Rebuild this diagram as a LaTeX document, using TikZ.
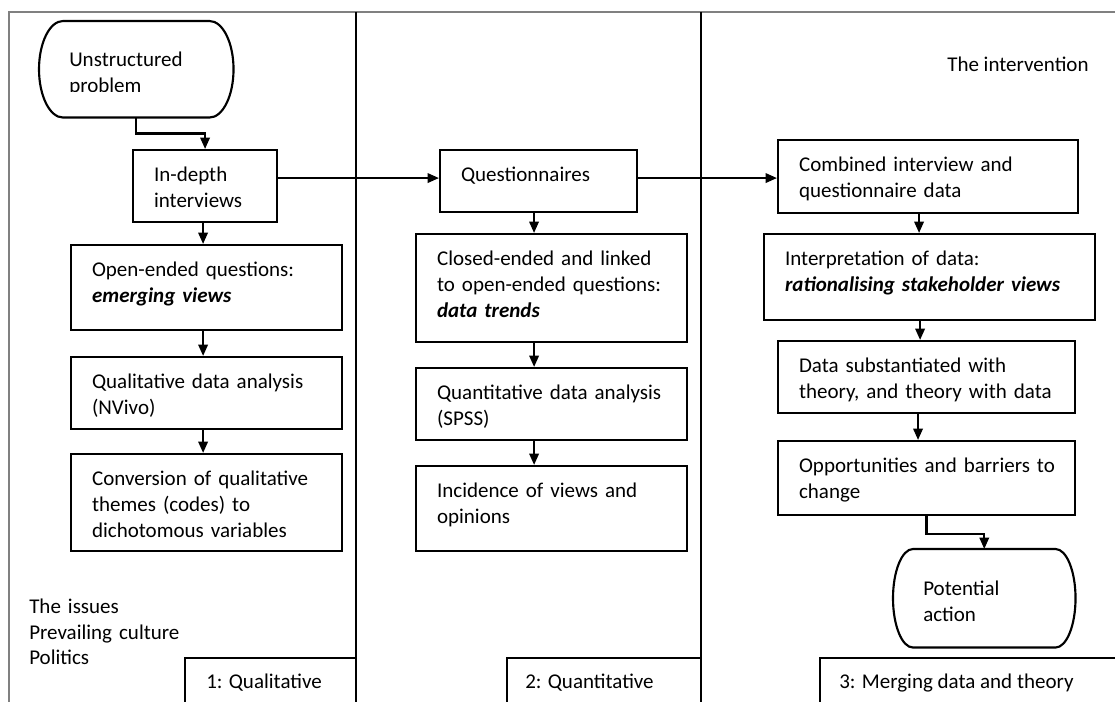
\documentclass[tikz,border=0pt]{standalone}
\usepackage{fontspec}
\setmainfont{Carlito}
\usetikzlibrary{arrows.meta}
\begin{document}
\begin{tikzpicture}[x=0.75pt,y=-0.75pt,
  every node/.style={font=\fontsize{15.75}{19.5}\selectfont},
  procbox/.style={draw, line width=1.6pt, anchor=north west, align=left, inner xsep=15.75pt, inner ysep=0pt, text height=23.25pt},
  termbox/.style={anchor=north west, align=left, inner xsep=22.5pt, inner ysep=0pt},
  termline/.style={line width=1.6pt},
  arr/.style={line width=1.7pt, -{Triangle[length=8.5pt,width=7pt]}},
  divider/.style={line width=1.6pt},
  outerframe/.style={line width=1.3pt, draw=black!50},
  freetext/.style={anchor=base west, inner sep=0pt, align=left}
]
\useasboundingbox (0,0) rectangle (1115,702);

% frame and lane dividers
\draw[outerframe] (9,702) -- (9,12) -- (1115,12);
\draw[divider] (356,12) -- (356,702);
\draw[divider] (701,12) -- (701,702);

% lane labels
\node[freetext] (lab1) at (206,688) {1: Qualitative};
\draw[divider] (185,702) |- (356,658);
\node[freetext] (lab2) at (525,688) {2: Quantitative};
\draw[divider] (507,702) |- (701,658);
\node[freetext] (lab3) at (839,688) {3: Merging data and theory};
\draw[divider] (820,702) |- (1115,658);

% free texts
\node[freetext, text width=150pt] (issues) at (29,613) {The issues\\Prevailing culture\\Politics};
\node[freetext] (interv) at (947,72) {The intervention};

% terminator: Unstructured problem
\begin{scope}
\clip (0,0) rectangle (1115,91.5);
\node[termbox, text width=100.5pt, text height=33.75pt, text depth=38.25pt] (unstr) at (39,21) {Unstructured\\problem};
\end{scope}
\draw[termline] ([xshift=18pt]unstr.north west) -- ([xshift=-18pt]unstr.north east)
  .. controls +(9.94pt,0pt) and +(0pt,19.9pt) .. (unstr.east)
  .. controls +(0pt,-19.9pt) and +(9.94pt,0pt) .. ([xshift=-18pt]unstr.south east)
  -- ([xshift=18pt]unstr.south west)
  .. controls +(-9.94pt,0pt) and +(0pt,-19.9pt) .. (unstr.west)
  .. controls +(0pt,19.9pt) and +(-9.94pt,0pt) .. cycle;

% terminator: Potential action
\node[termbox, text width=91.5pt, text height=34.5pt, text depth=39pt] (pot) at (893,549) {Potential\\action};
\draw[termline] ([xshift=15pt]pot.north west) -- ([xshift=-15pt]pot.north east)
  .. controls +(8.28pt,0pt) and +(0pt,20.3pt) .. (pot.east)
  .. controls +(0pt,-20.3pt) and +(8.28pt,0pt) .. ([xshift=-15pt]pot.south east)
  -- ([xshift=15pt]pot.south west)
  .. controls +(-8.28pt,0pt) and +(0pt,-20.3pt) .. (pot.west)
  .. controls +(0pt,20.3pt) and +(-8.28pt,0pt) .. cycle;

% column 1
\node[procbox, text width=76.5pt, text depth=30.75pt] (indepth) at (132,149) {In-depth\\interviews};
\node[procbox, text width=171.75pt, text depth=40.5pt] (openq) at (70,244) {Open-ended questions:\\\textbf{\textit{emerging views}}};
\node[procbox, text width=171.75pt, text depth=30.75pt] (qualda) at (70,356) {Qualitative data analysis\\(NVivo)};
\node[procbox, text width=171.75pt, text depth=49.5pt] (conv) at (70,453) {Conversion of qualitative\\themes (codes) to\\dichotomous variables};

% column 2
\node[procbox, text width=116.25pt, text depth=23.25pt] (quest) at (439,149) {Questionnaires};
\node[procbox, text width=171.75pt, text depth=57.75pt] (closed) at (415,233) {Closed-ended and linked\\to open-ended questions:\\\textbf{\textit{data trends}}};
\node[procbox, text width=171.75pt, text depth=30.75pt] (quantda) at (415,367) {\mbox{Quantitative data analysis}\\(SPSS)};
\node[procbox, text width=171.75pt, text depth=40.5pt] (incid) at (415,465) {Incidence of views and\\opinions};

% column 3
\node[procbox, text width=193.5pt, text depth=31.5pt] (comb) at (777,139) {Combined interview and\\questionnaire data};
\node[procbox, text width=216.75pt, text depth=41.25pt] (interp) at (763,233) {Interpretation of data:\\\textbf{\textit{rationalising stakeholder views}}};
\node[procbox, text width=191.25pt, text depth=30.75pt] (datasub) at (777,340) {Data substantiated with\\\mbox{theory, and theory with data}};
\node[procbox, text width=191.25pt, text depth=32.25pt] (opp) at (777,440) {\mbox{Opportunities and barriers to}\\change};

% connectors
\draw[arr] (unstr.south) -- ++(0,16) -| (indepth.north);
\draw[arr] ([xshift=-1.5pt]indepth.south) -- ([xshift=-1.5pt]indepth.south |- openq.north);
\draw[arr] ([xshift=-2.6pt]openq.south) -- ([xshift=-2.6pt]qualda.north);
\draw[arr] ([xshift=-2.6pt]qualda.south) -- ([xshift=-2.6pt]conv.north);
\draw[arr] ([yshift=6pt]indepth.east) -- ([yshift=6pt]indepth.east -| quest.west);
\draw[arr] ([xshift=-3.4pt]quest.south) -- ([xshift=-3.4pt]quest.south |- closed.north);
\draw[arr] ([xshift=-13.1pt]closed.south) -- ([xshift=-13.1pt]quantda.north);
\draw[arr] ([xshift=-13.1pt]quantda.south) -- ([xshift=-13.1pt]incid.north);
\draw[arr] ([yshift=2.25pt]quest.east) -- ([yshift=2.25pt]quest.east -| comb.west);
\draw[arr] ([xshift=-6.75pt]comb.south) -- ([xshift=-6.75pt]comb.south |- interp.north);
\draw[arr] ([xshift=-7.1pt]interp.south) -- ([xshift=-7.1pt]interp.south |- datasub.north);
\draw[arr] ([xshift=-6.4pt]datasub.south) -- ([xshift=-6.4pt]datasub.south |- opp.north);
\draw[arr] (opp.south) -- ++(0,18) -| (pot.north);
\end{tikzpicture}
\end{document}
